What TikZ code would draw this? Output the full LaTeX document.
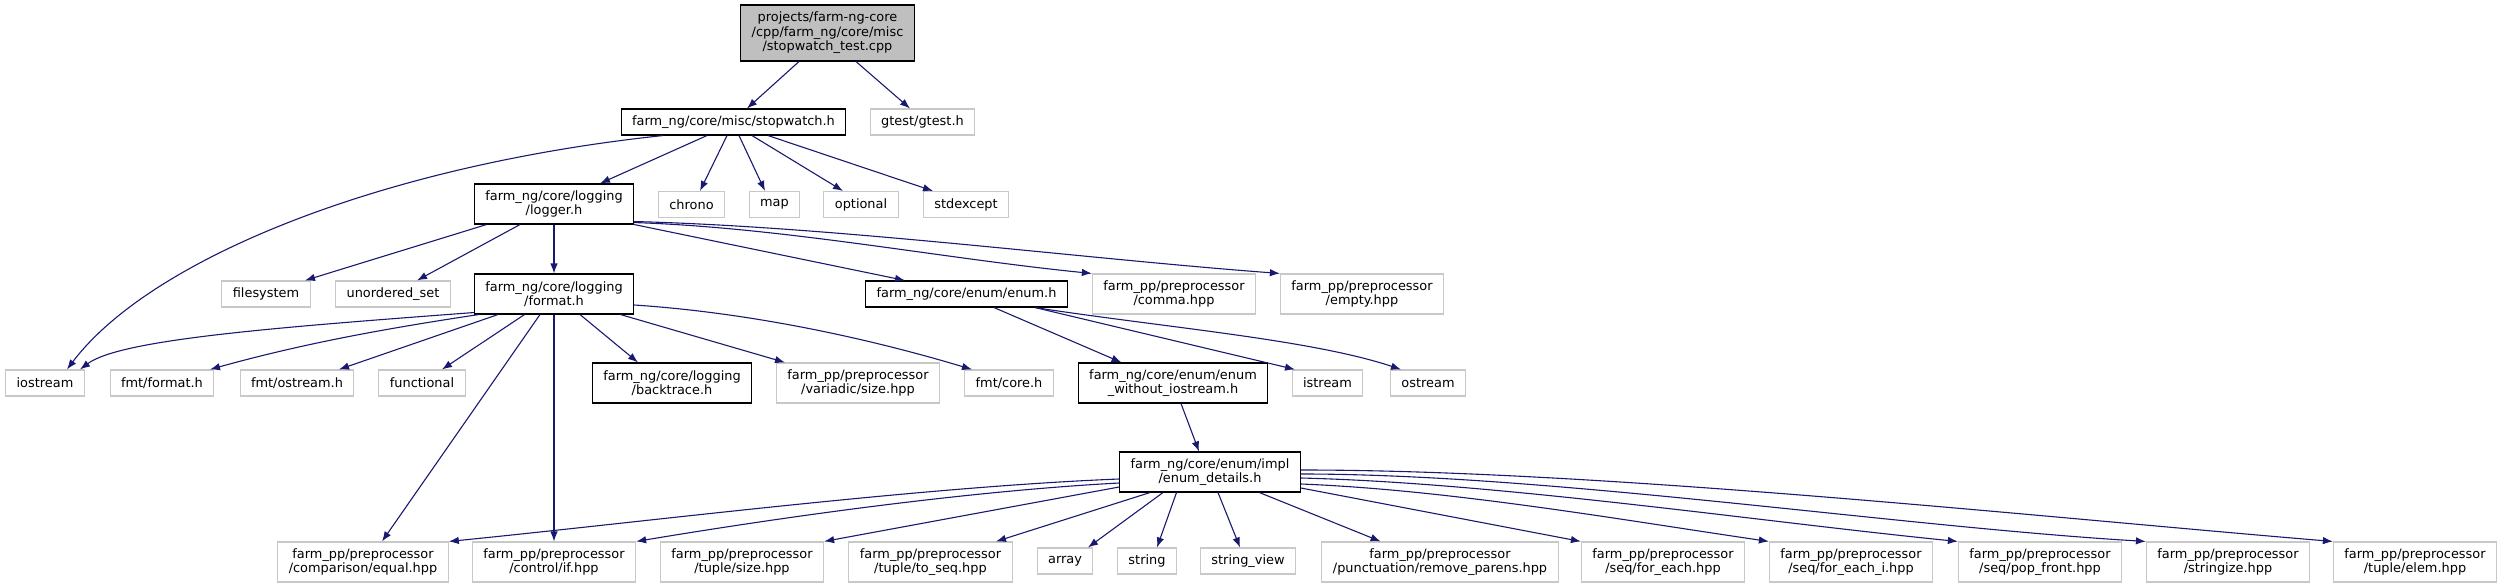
\documentclass[tikz,border=0pt]{standalone}
\usepackage{fontspec}
\setmainfont{DejaVu Sans}
\usepackage{tikz}
\usetikzlibrary{arrows.meta}
\definecolor{edgeblue}{HTML}{191970}
\definecolor{extgray}{HTML}{C8C8C8}
\definecolor{mainfill}{HTML}{BFBFBF}

\begin{document}
\begin{tikzpicture}[
  x=1pt, y=-1pt,
  font=\fontsize{12.9}{14.5}\selectfont,
  box/.style={rectangle, draw, line width=1.1pt, align=center,
              inner xsep=11pt, inner ysep=5pt, minimum height=26pt},
  doc/.style={box, draw=black},
  ext/.style={box, draw=extgray},
  mainf/.style={box, draw=black, fill=mainfill, minimum height=56pt},
  tall/.style={minimum height=40pt},
  arr/.style={-{Latex[length=10pt,width=7.5pt]}, draw=edgeblue, line width=1.1pt}
]
  \useasboundingbox (0,0) rectangle (2503,588);

  % top
  \node[mainf] (root) at (827.5,33) {projects/farm-ng-core\\/cpp/farm\_ng/core/misc\\/stopwatch\_test.cpp};
  \node[doc] (sw) at (733.5,122) {farm\_ng/core/misc/stopwatch.h};
  \node[ext] (gtest) at (922.5,122) {gtest/gtest.h};
  \node[ext] (chrono) at (691.5,204.5) {chrono};
  \node[ext] (map) at (774.5,204.5) {map};
  \node[ext] (optional) at (861,204.5) {optional};
  \node[ext] (stdexcept) at (966,204.5) {stdexcept};
  \node[doc,tall] (logger) at (554,204) {farm\_ng/core/logging\\/logger.h};

  % logger level
  \node[ext] (filesystem) at (266,294) {filesystem};
  \node[ext] (uset) at (393,294) {unordered\_set};
  \node[doc,tall] (fmth) at (554,294) {farm\_ng/core/logging\\/format.h};
  \node[doc] (enumh) at (966.5,294) {farm\_ng/core/enum/enum.h};
  \node[ext,tall] (comma) at (1174,294) {farm\_pp/preprocessor\\/comma.hpp};
  \node[ext,tall] (empty) at (1362,294) {farm\_pp/preprocessor\\/empty.hpp};

  % format level
  \node[ext] (iostream) at (45,383) {iostream};
  \node[ext] (fmtformat) at (162,383) {fmt/format.h};
  \node[ext] (fmtostream) at (297,383) {fmt/ostream.h};
  \node[ext] (functional) at (422,383) {functional};
  \node[doc,tall] (backtrace) at (672,383) {farm\_ng/core/logging\\/backtrace.h};
  \node[ext,tall] (varsize) at (858,383) {farm\_pp/preprocessor\\/variadic/size.hpp};
  \node[ext] (fmtcore) at (1009,383) {fmt/core.h};
  \node[doc,tall] (enumwo) at (1173,383) {farm\_ng/core/enum/enum\\\_without\_iostream.h};
  \node[ext] (istream) at (1327.5,383) {istream};
  \node[ext] (ostream) at (1428,383) {ostream};

  \node[doc,tall] (details) at (1210,472) {farm\_ng/core/enum/impl\\/enum\_details.h};

  % bottom row
  \node[ext,tall] (equal) at (363,562) {farm\_pp/preprocessor\\/comparison/equal.hpp};
  \node[ext,tall] (ifh) at (554,562) {farm\_pp/preprocessor\\/control/if.hpp};
  \node[ext,tall] (tsize) at (742,562) {farm\_pp/preprocessor\\/tuple/size.hpp};
  \node[ext,tall] (toseq) at (930.5,562) {farm\_pp/preprocessor\\/tuple/to\_seq.hpp};
  \node[ext] (array) at (1065,561) {array};
  \node[ext] (string) at (1147,561) {string};
  \node[ext] (strview) at (1248,561) {string\_view};
  \node[ext,tall] (rmparens) at (1440,562) {farm\_pp/preprocessor\\/punctuation/remove\_parens.hpp};
  \node[ext,tall] (foreach) at (1663,562) {farm\_pp/preprocessor\\/seq/for\_each.hpp};
  \node[ext,tall] (foreachi) at (1851,562) {farm\_pp/preprocessor\\/seq/for\_each\_i.hpp};
  \node[ext,tall] (popfront) at (2040,562) {farm\_pp/preprocessor\\/seq/pop\_front.hpp};
  \node[ext,tall] (stringize) at (2228,562) {farm\_pp/preprocessor\\/stringize.hpp};
  \node[ext,tall] (elem) at (2415,562) {farm\_pp/preprocessor\\/tuple/elem.hpp};

  % includes of the test file and stopwatch.h
  \draw[arr] ([xshift=-28.5pt]root.south) -- ([xshift=13.5pt]sw.north);
  \draw[arr] ([xshift=28.5pt]root.south) -- ([xshift=-12.5pt]gtest.north);
  \draw[arr] ([xshift=-6.5pt]sw.south) -- ([xshift=8.5pt]chrono.north);
  \draw[arr] ([xshift=5.5pt]sw.south) -- ([xshift=-9.5pt]map.north);
  \draw[arr] ([xshift=18.5pt]sw.south) -- ([xshift=-18pt]optional.north);
  \draw[arr] ([xshift=34.5pt]sw.south) -- ([xshift=-33pt]stdexcept.north);
  \draw[arr] ([xshift=-26.5pt]sw.south) -- ([xshift=46pt]logger.north);
  \draw[arr] ([xshift=-70.5pt]sw.south) .. controls +(-283,30) and +(83,-110) .. ([xshift=22pt]iostream.north);

  % logger.h
  \draw[arr] ([xshift=-67.5pt]logger.south) -- ([xshift=39pt]filesystem.north);
  \draw[arr] ([xshift=-34pt]logger.south) -- ([xshift=24pt]uset.north);
  \draw[arr] (logger) -- (fmth);
  \draw[arr] (logger.south east) -- ([xshift=-61.5pt]enumh.north);
  \draw[arr] ([yshift=2pt]logger.south east) .. controls +(150,5) and +(-150,-15) .. (comma.north west);
  \draw[arr] ([yshift=3pt]logger.south east) .. controls +(200,5) and +(-200,-15) .. (empty.north west);

  % format.h
  \draw[arr] ([yshift=2pt]fmth.south west) .. controls +(-200,15) and +(40,-30) .. ([xshift=35pt]iostream.north);
  \draw[arr] ([xshift=5pt]fmth.south west) .. controls +(-100,15) and +(90,-25) .. ([xshift=48pt]fmtformat.north);
  \draw[arr] ([xshift=-56pt]fmth.south) -- ([xshift=42pt]fmtostream.north);
  \draw[arr] ([xshift=-29.5pt]fmth.south) -- ([xshift=20pt]functional.north);
  \draw[arr] ([xshift=-14pt]fmth.south) -- ([xshift=19pt]equal.north);
  \draw[arr] (fmth) -- (ifh);
  \draw[arr] ([xshift=26pt]fmth.south) -- ([xshift=-34pt]backtrace.north);
  \draw[arr] ([xshift=66.5pt]fmth.south) -- ([xshift=-73pt]varsize.north);
  \draw[arr] ([yshift=-11pt]fmth.east) .. controls +(120,8) and +(-100,-30) .. ([xshift=-37pt]fmtcore.north);

  % enum.h
  \draw[arr] ([xshift=27.5pt]enumh.south) -- ([xshift=-51.5pt]enumwo.north);
  \draw[arr] ([xshift=68.5pt]enumh.south) -- ([xshift=-32.5pt]istream.north);
  \draw[arr] ([xshift=68.5pt]enumh.south) .. controls +(130,20) and +(-90,-30) .. ([xshift=-27pt]ostream.north);
  \draw[arr] ([xshift=8pt]enumwo.south) -- ([xshift=-11pt]details.north);

  % enum_details.h
  \draw[arr] ([yshift=-7pt]details.west) .. controls +(-200,8) and +(200,-20) .. (equal.north east);
  \draw[arr] ([yshift=-11pt]details.west) .. controls +(-150,8) and +(150,-25) .. (ifh.north east);
  \draw[arr] ([yshift=-15pt]details.west) -- (tsize.north east);
  \draw[arr] ([xshift=-60pt]details.south) -- ([xshift=65.5pt]toseq.north);
  \draw[arr] ([xshift=-47pt]details.south) -- ([xshift=23pt]array.north);
  \draw[arr] ([xshift=-33.5pt]details.south) -- ([xshift=10pt]string.north);
  \draw[arr] ([xshift=8pt]details.south) -- ([xshift=-8pt]strview.north);
  \draw[arr] ([xshift=49.4pt]details.south) -- ([xshift=-59.4pt]rmparens.north);
  \draw[arr] ([yshift=-16pt]details.east) -- (foreach.north west);
  \draw[arr] ([yshift=-12pt]details.east) .. controls +(150,6) and +(-150,-22) .. (foreachi.north west);
  \draw[arr] ([yshift=-6pt]details.east) .. controls +(200,5) and +(-200,-20) .. (popfront.north west);
  \draw[arr] ([yshift=-2pt]details.east) .. controls +(250,0) and +(-250,-15) .. (stringize.north west);
  \draw[arr] ([yshift=2pt]details.east) .. controls +(300,0) and +(-300,-25) .. (elem.north west);
\end{tikzpicture}
\end{document}
